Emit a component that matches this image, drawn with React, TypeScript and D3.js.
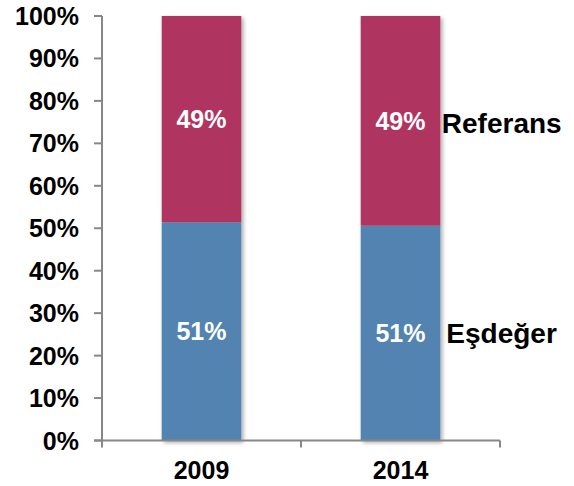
import React from "react";
import * as d3 from "d3";

const categories = ["2009", "2014"];
const esdegerValues = [51.4, 50.6];
const referansValues = [48.6, 49.4];
const esdegerLabels = ["51%", "51%"];
const referansLabels = ["49%", "49%"];
const seriesNames = ["Eşdeğer", "Referans"];
const yTicks = [0, 10, 20, 30, 40, 50, 60, 70, 80, 90, 100];

const W = 574;
const H = 486;
const left = 102;
const right = 500;
const top = 16;
const bottom = 440.5;

export default function App() {
  const x = d3.scaleBand<string>().domain(categories).range([left, right]).paddingInner(0).paddingOuter(0);
  const y = d3.scaleLinear().domain([0, 100]).range([bottom, top]);
  const barW = x.bandwidth() * 0.4;
  const font = "'Liberation Sans', Arial, sans-serif";
  const blue = "#5283B0";
  const red = "#AF3660";
  const axisColor = "#878787";
  const lastCat = categories[categories.length - 1];
  const lastIdx = categories.length - 1;
  const lastRight = (x(lastCat) as number) + x.bandwidth() / 2 + barW / 2;
  const lastBlueTop = y(esdegerValues[lastIdx]);
  const lastRedTop = y(esdegerValues[lastIdx] + referansValues[lastIdx]);

  return (
    <svg width={W} height={H} style={{ position: "absolute", left: 0, top: 0, display: "block" }}>
      <defs>
        <filter id="shadow" x="-20%" y="-5%" width="140%" height="110%">
          <feGaussianBlur in="SourceAlpha" stdDeviation="2" />
          <feOffset dx="1.5" dy="1.5" result="ob" />
          <feComponentTransfer>
            <feFuncA type="linear" slope="0.35" />
          </feComponentTransfer>
          <feMerge>
            <feMergeNode />
            <feMergeNode in="SourceGraphic" />
          </feMerge>
        </filter>
      </defs>
      <rect width={W} height={H} fill="#fff" />
      {categories.map((c, i) => {
        const cx = (x(c) as number) + x.bandwidth() / 2;
        const x0 = cx - barW / 2;
        const yb = y(esdegerValues[i]);
        const yr = y(esdegerValues[i] + referansValues[i]);
        return (
          <g key={c} filter="url(#shadow)">
            <rect x={x0} y={yb} width={barW} height={bottom - yb} fill={blue} />
            <rect x={x0} y={yr} width={barW} height={yb - yr} fill={red} />
          </g>
        );
      })}
      <line x1={left} x2={left} y1={top} y2={bottom} stroke={axisColor} strokeWidth={2} />
      {yTicks.map((t) => (
        <g key={t}>
          <line x1={left - 8} x2={left} y1={y(t)} y2={y(t)} stroke={axisColor} strokeWidth={2} />
          <text
            x={79}
            y={y(t)}
            dy="0.36em"
            textAnchor="end"
            fontFamily={font}
            fontWeight="bold"
            fontSize={25}
            fill="#000"
          >
            {t}%
          </text>
        </g>
      ))}
      <line x1={left - 8} x2={right} y1={bottom} y2={bottom} stroke={axisColor} strokeWidth={2} />
      {[...categories.map((c) => x(c) as number), right].map((v, i) => (
        <line key={i} x1={v} x2={v} y1={bottom} y2={bottom + 7} stroke={axisColor} strokeWidth={2} />
      ))}
      {categories.map((c) => {
        const cx = (x(c) as number) + x.bandwidth() / 2;
        return (
          <text key={c} x={cx} y={479} textAnchor="middle" fontFamily={font} fontWeight="bold" fontSize={25} fill="#000">
            {c}
          </text>
        );
      })}
      {categories.map((c, i) => {
        const cx = (x(c) as number) + x.bandwidth() / 2;
        const yb = y(esdegerValues[i]);
        const yr = y(esdegerValues[i] + referansValues[i]);
        return (
          <g key={c}>
            <text x={cx} y={(bottom + yb) / 2} dy="0.36em" textAnchor="middle" fontFamily={font} fontWeight="bold" fontSize={25} fill="#fff">
              {esdegerLabels[i]}
            </text>
            <text x={cx} y={(yb + yr) / 2} dy="0.36em" textAnchor="middle" fontFamily={font} fontWeight="bold" fontSize={25} fill="#fff">
              {referansLabels[i]}
            </text>
          </g>
        );
      })}
      <text
        x={lastRight + 1.5}
        y={(lastBlueTop + lastRedTop) / 2 + 12.3}
        fontFamily={font}
        fontWeight="bold"
        fontSize={28}
        fill="#000"
      >
        {seriesNames[1]}
      </text>
      <text
        x={lastRight + 6}
        y={(bottom + lastBlueTop) / 2 + 10.3}
        fontFamily={font}
        fontWeight="bold"
        fontSize={28}
        fill="#000"
      >
        {seriesNames[0]}
      </text>
    </svg>
  );
}
